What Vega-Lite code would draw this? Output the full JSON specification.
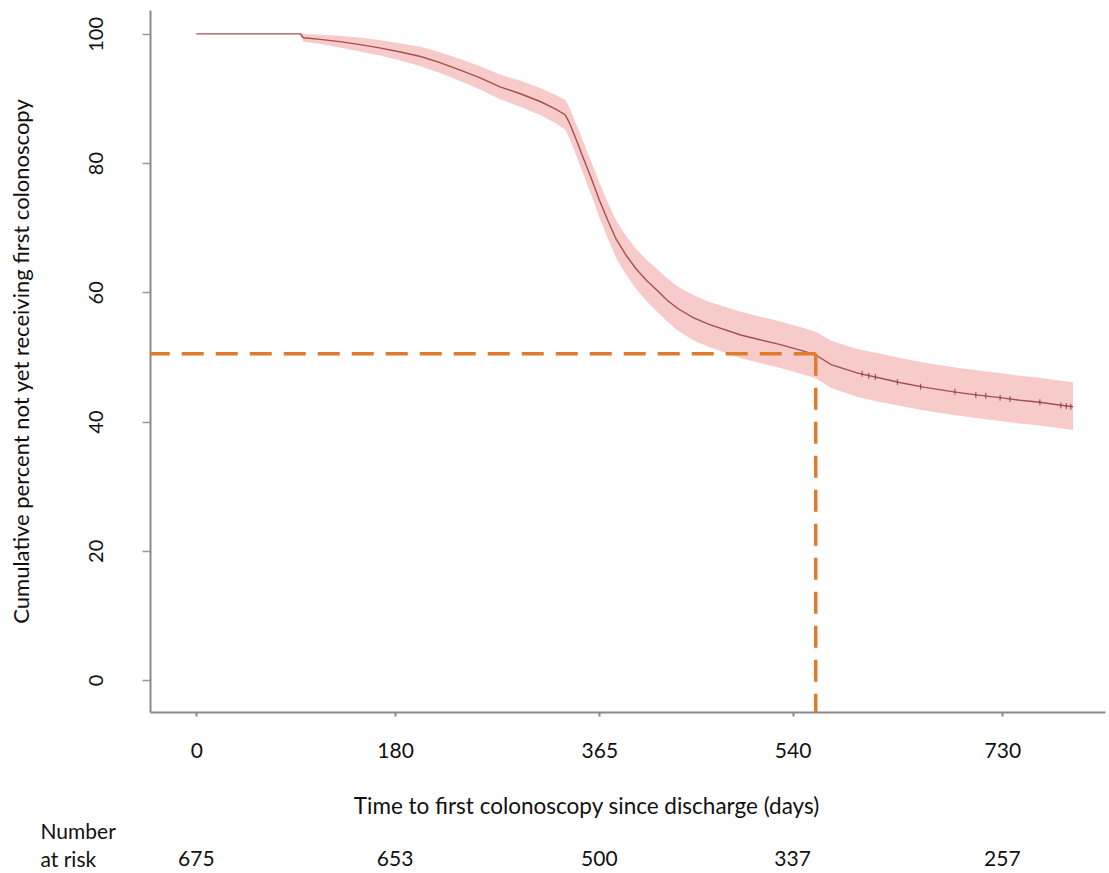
{
  "$schema": "https://vega.github.io/schema/vega-lite/v6.json",
  "padding": {"left": 10, "top": 10, "right": 4, "bottom": 2},
  "background": "white",
  "config": {
    "view": {"stroke": null},
    "font": "Lato",
    "concat": {"spacing": 3},
    "axis": {"grid": false, "labelColor": "#111", "titleColor": "#111", "titleFontWeight": "normal"}
  },
  "datasets": {
    "km": [
      {"day": 0, "surv": 100, "lo": null, "hi": null},
      {"day": 94, "surv": 100, "lo": 99.7, "hi": 100.3},
      {"day": 97, "surv": 99.4, "lo": 98.8, "hi": 100.0},
      {"day": 110, "surv": 99.2, "lo": 98.5, "hi": 99.9},
      {"day": 130, "surv": 98.8, "lo": 97.9, "hi": 99.7},
      {"day": 150, "surv": 98.3, "lo": 97.2, "hi": 99.4},
      {"day": 167, "surv": 97.8, "lo": 96.6, "hi": 99.0},
      {"day": 185, "surv": 97.2, "lo": 95.9, "hi": 98.5},
      {"day": 203, "surv": 96.5, "lo": 95.0, "hi": 98.0},
      {"day": 220, "surv": 95.6, "lo": 94.0, "hi": 97.2},
      {"day": 239, "surv": 94.4, "lo": 92.7, "hi": 96.1},
      {"day": 257, "surv": 93.2, "lo": 91.4, "hi": 95.0},
      {"day": 275, "surv": 91.8, "lo": 89.9, "hi": 93.7},
      {"day": 294, "surv": 90.7, "lo": 88.7, "hi": 92.7},
      {"day": 312, "surv": 89.5, "lo": 87.4, "hi": 91.6},
      {"day": 325, "surv": 88.4, "lo": 86.2, "hi": 90.6},
      {"day": 334, "surv": 87.5, "lo": 85.2, "hi": 89.8},
      {"day": 338, "surv": 86.2, "lo": 83.8, "hi": 88.6},
      {"day": 342, "surv": 84.5, "lo": 82.1, "hi": 86.9},
      {"day": 346, "surv": 82.8, "lo": 80.3, "hi": 85.3},
      {"day": 350, "surv": 81.0, "lo": 78.5, "hi": 83.5},
      {"day": 358, "surv": 77.5, "lo": 74.9, "hi": 80.1},
      {"day": 365, "surv": 74.3, "lo": 71.6, "hi": 77.0},
      {"day": 373, "surv": 71.0, "lo": 68.2, "hi": 73.8},
      {"day": 380, "surv": 68.3, "lo": 65.4, "hi": 71.2},
      {"day": 389, "surv": 65.8, "lo": 62.8, "hi": 68.8},
      {"day": 398, "surv": 63.7, "lo": 60.6, "hi": 66.8},
      {"day": 408, "surv": 61.8, "lo": 58.6, "hi": 65.0},
      {"day": 418, "surv": 60.2, "lo": 56.9, "hi": 63.5},
      {"day": 427, "surv": 58.7, "lo": 55.4, "hi": 62.1},
      {"day": 436, "surv": 57.5, "lo": 54.1, "hi": 60.9},
      {"day": 450, "surv": 56.1, "lo": 52.6, "hi": 59.6},
      {"day": 465, "surv": 55.0, "lo": 51.5, "hi": 58.5},
      {"day": 493, "surv": 53.4, "lo": 49.8, "hi": 57.0},
      {"day": 529, "surv": 51.9, "lo": 48.3, "hi": 55.5},
      {"day": 550, "surv": 50.9, "lo": 47.3, "hi": 54.5},
      {"day": 561, "surv": 50.3, "lo": 46.7, "hi": 53.9},
      {"day": 575, "surv": 48.8, "lo": 45.2, "hi": 52.5},
      {"day": 599, "surv": 47.5, "lo": 43.8, "hi": 51.2},
      {"day": 620, "surv": 46.7, "lo": 43.0, "hi": 50.5},
      {"day": 638, "surv": 46.0, "lo": 42.4, "hi": 49.8},
      {"day": 660, "surv": 45.3, "lo": 41.7, "hi": 49.1},
      {"day": 686, "surv": 44.6, "lo": 41.0, "hi": 48.4},
      {"day": 708, "surv": 44.1, "lo": 40.5, "hi": 47.9},
      {"day": 728, "surv": 43.7, "lo": 40.1, "hi": 47.5},
      {"day": 746, "surv": 43.3, "lo": 39.7, "hi": 47.1},
      {"day": 764, "surv": 43.0, "lo": 39.4, "hi": 46.8},
      {"day": 780, "surv": 42.6, "lo": 39.0, "hi": 46.4},
      {"day": 794, "surv": 42.3, "lo": 38.7, "hi": 46.1}
    ],
    "censor": [
      {"day": 603, "surv": 47.4},
      {"day": 609, "surv": 47.1},
      {"day": 615, "surv": 46.9},
      {"day": 635, "surv": 46.1},
      {"day": 656, "surv": 45.4},
      {"day": 687, "surv": 44.6},
      {"day": 706, "surv": 44.1},
      {"day": 715, "surv": 44.0},
      {"day": 728, "surv": 43.7},
      {"day": 737, "surv": 43.5},
      {"day": 764, "surv": 43.0},
      {"day": 783, "surv": 42.5},
      {"day": 788, "surv": 42.4},
      {"day": 792, "surv": 42.3}
    ],
    "median": [{"day": 561, "pct": 50.5}],
    "risk": [
      {"day": 0, "n": 675, "row": "Number at risk"},
      {"day": 180, "n": 653, "row": "Number at risk"},
      {"day": 365, "n": 500, "row": "Number at risk"},
      {"day": 540, "n": 337, "row": "Number at risk"},
      {"day": 730, "n": 257, "row": "Number at risk"}
    ]
  },
  "vconcat": [
    {
      "width": 955,
      "height": 702,
      "layer": [
        {
          "data": {"name": "km"},
          "mark": {"type": "area", "color": "#f8cbcb", "opacity": 1},
          "encoding": {
            "x": {
              "field": "day", "type": "quantitative",
              "scale": {"domain": [-42, 823], "nice": false, "zero": false},
              "title": "Time to first colonoscopy since discharge (days)",
              "axis": {
                "values": [0, 180, 365, 540, 730],
                "domainColor": "#8a8a8a", "domainWidth": 2,
                "tickColor": "#888", "tickSize": 4, "tickWidth": 2,
                "labelFontSize": 21, "labelPadding": 24, "labelFlush": false,
                "titleFontSize": 22.5, "titlePadding": 34, "titleX": 436
              }
            },
            "y": {
              "field": "lo", "type": "quantitative",
              "scale": {"domain": [-4.95, 103.7], "nice": false, "zero": false},
              "title": "Cumulative percent not yet receiving first colonoscopy",
              "axis": {
                "values": [0, 20, 40, 60, 80, 100],
                "domainColor": "#8a8a8a", "domainWidth": 2,
                "tickColor": "#999", "tickSize": 8, "tickWidth": 1.5,
                "labelAngle": -90, "labelFontSize": 20, "labelPadding": 36,
                "titleFontSize": 22, "titlePadding": 53
              }
            },
            "y2": {"field": "hi"}
          }
        },
        {
          "data": {"name": "km"},
          "mark": {"type": "line", "color": "#a64e4e", "strokeWidth": 1.4},
          "encoding": {
            "x": {"field": "day", "type": "quantitative"},
            "y": {"field": "surv", "type": "quantitative"}
          }
        },
        {
          "data": {"name": "censor"},
          "mark": {"type": "tick", "orient": "vertical", "color": "#6a3030", "size": 6, "thickness": 1.2},
          "encoding": {
            "x": {"field": "day", "type": "quantitative"},
            "y": {"field": "surv", "type": "quantitative"}
          }
        },
        {
          "data": {"name": "median"},
          "mark": {"type": "rule", "color": "#e07a2e", "strokeWidth": 3.5, "strokeDash": [22, 12]},
          "encoding": {
            "x": {"field": "day", "type": "quantitative"},
            "x2": {"datum": -42},
            "y": {"field": "pct", "type": "quantitative"}
          }
        },
        {
          "data": {"name": "median"},
          "mark": {"type": "rule", "color": "#e07a2e", "strokeWidth": 3.5, "strokeDash": [22, 12]},
          "encoding": {
            "x": {"field": "day", "type": "quantitative"},
            "y": {"field": "pct", "type": "quantitative"},
            "y2": {"datum": -4.95}
          }
        }
      ]
    },
    {
      "width": 955,
      "height": 10,
      "data": {"name": "risk"},
      "mark": {"type": "text", "fontSize": 21, "baseline": "bottom", "color": "#111"},
      "encoding": {
        "x": {"field": "day", "type": "quantitative", "scale": {"domain": [-42, 823], "nice": false, "zero": false}, "axis": null},
        "y": {
          "field": "row", "type": "nominal", "title": null,
          "axis": {
            "domain": false, "ticks": false, "tickSize": 0,
            "labelAlign": "left", "labelBaseline": "bottom", "labelPadding": 110,
            "labelFontSize": 21, "labelLineHeight": 28, "labelOffset": -28,
            "labelExpr": "[slice(datum.value, 0, 6), slice(datum.value, 7)]"
          }
        },
        "text": {"field": "n", "type": "quantitative"}
      }
    }
  ]
}
